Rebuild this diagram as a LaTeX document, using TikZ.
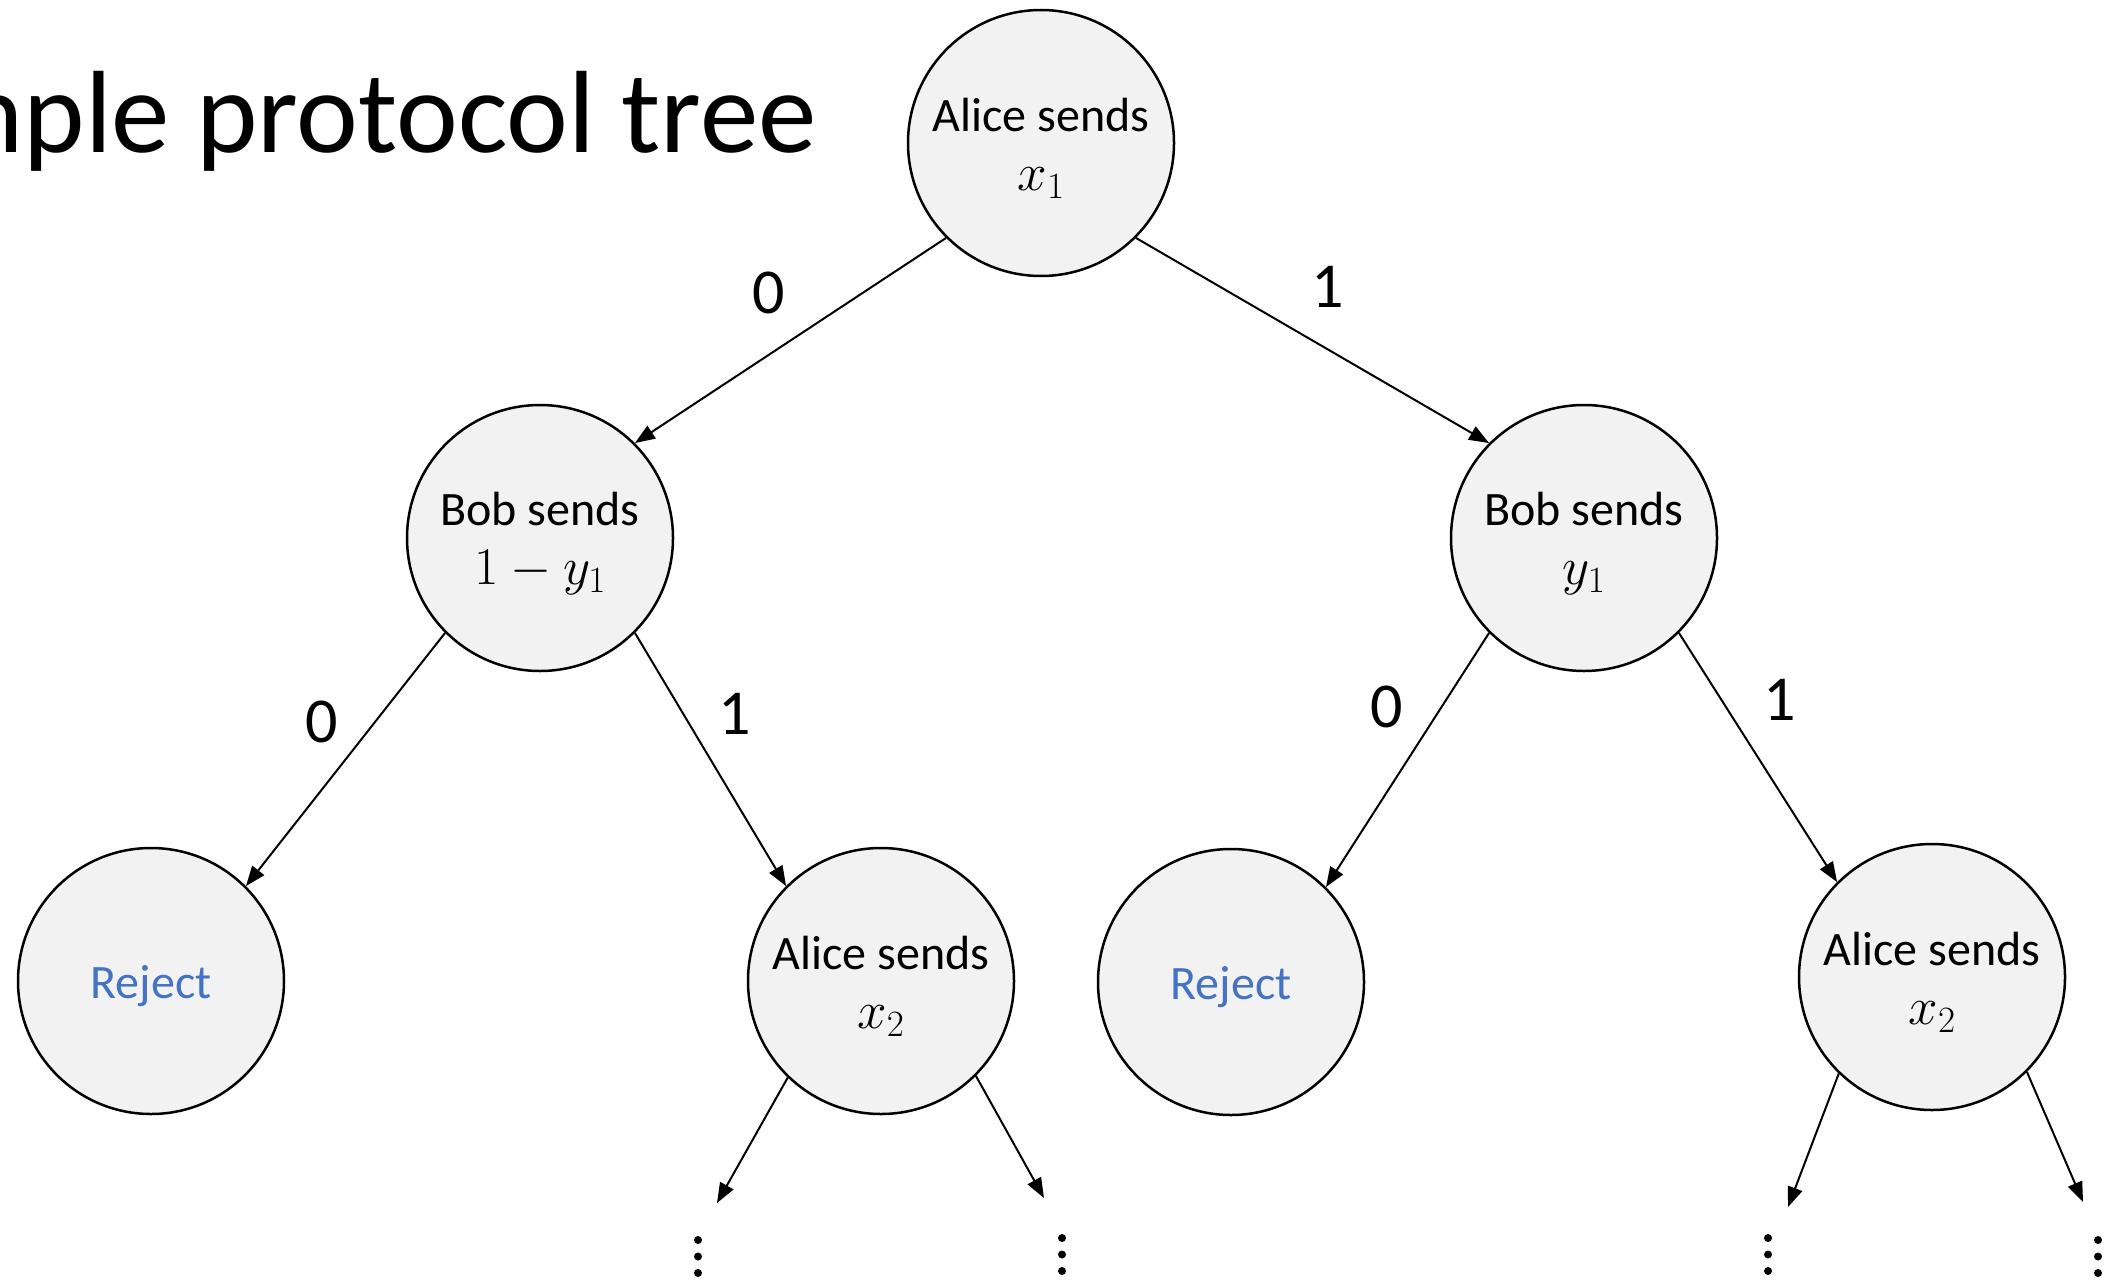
\RequirePackage{fix-cm}
\documentclass[tikz,border=0pt]{standalone}
\usepackage[no-math]{fontspec}
\setmainfont{Carlito}
\usetikzlibrary{arrows.meta}
\definecolor{nodefill}{HTML}{F2F2F2}
\definecolor{rejblue}{HTML}{4472C4}
\newcommand\topgap{\rule{0pt}{44pt}}
\newcommand\mline[1]{{\fontsize{53}{59}\selectfont$#1$}}
\begin{document}
\begin{tikzpicture}[x=1pt,y=-1pt,
  state/.style={circle,draw=black,line width=2.5pt,fill=nodefill,minimum size=266pt,inner sep=0pt,align=center,font=\fontsize{48}{59}\selectfont},
  edge/.style={line width=2pt,-{Triangle[length=20pt,width=15pt]}},
  elabel/.style={font=\fontsize{64}{64}\selectfont,inner sep=0pt},
  dotmark/.style={fill=black,draw=none}]
\useasboundingbox (0,0) rectangle (2116,1279);

\node[anchor=base east,font=\fontsize{117}{140}\selectfont,inner sep=0pt] (title) at (817,152) {Example protocol tree};

\node[state] (top)  at (1041,143) {\topgap Alice sends\\\mline{x_1}};
\node[state] (bobL) at (540,538)  {\topgap Bob sends\\\mline{1-y_1}};
\node[state] (bobR) at (1584,538) {\topgap Bob sends\\\mline{y_1}};
\node[state,text=rejblue] (rejL) at (151,981) {\topgap Reject};
\node[state] (aliL) at (881,981)  {\topgap Alice sends\\\mline{x_2}};
\node[state,text=rejblue] (rejR) at (1231,982) {\topgap Reject};
\node[state] (aliR) at (1932,977) {\topgap Alice sends\\\mline{x_2}};

\draw[edge] (top.225) -- (bobL.45);
\draw[edge] (top.-45) -- (bobR.135);
\draw[edge] (bobL.225) -- (rejL.45);
\draw[edge] (bobL.-45) -- (aliL.135);
\draw[edge] (bobR.225) -- (rejR.45);
\draw[edge] (bobR.-45) -- (aliR.135);

\coordinate (e1) at (717,1203);
\coordinate (e2) at (1044,1198);
\coordinate (e3) at (1788,1207);
\coordinate (e4) at (2083,1202);
\draw[edge] (aliL.226) -- (e1);
\draw[edge] (aliL.-45) -- (e2);
\draw[edge] (aliR.226) -- (e3);
\draw[edge] (aliR.-45) -- (e4);

\node[elabel] (l1) at (769,293) {0};
\node[elabel] (l2) at (1328,287) {1};
\node[elabel] (l3) at (322,722) {0};
\node[elabel] (l4) at (735,714) {1};
\node[elabel] (l5) at (1387,707) {0};
\node[elabel] (l6) at (1780,700) {1};

\foreach \x/\y in {698/1240,1062/1238,1768/1238,2098/1240}{
  \foreach \d in {0,16.5,33}{
    \fill[dotmark] (\x,\y+\d) circle[radius=4pt];
  }
}
\end{tikzpicture}
\end{document}
